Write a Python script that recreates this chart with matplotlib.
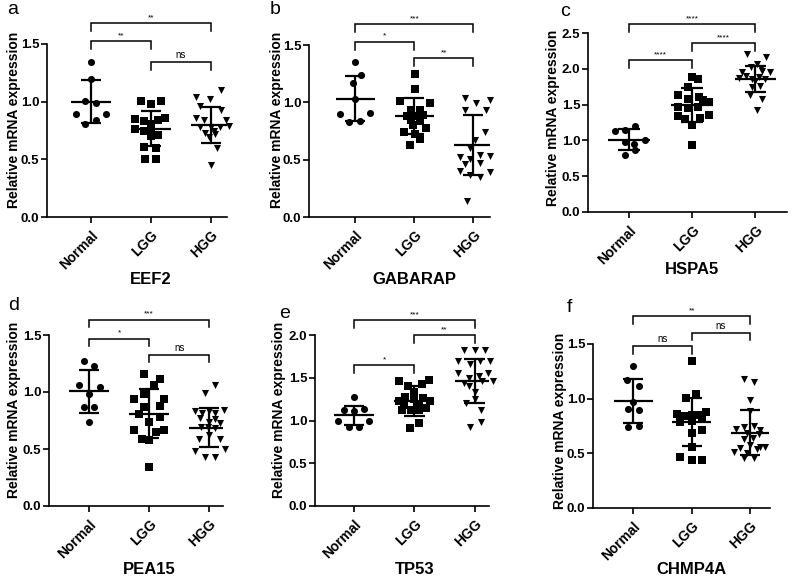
import matplotlib
matplotlib.use("Agg")
import matplotlib.pyplot as plt
import matplotlib.transforms as mtransforms

plt.rcParams['font.family'] = ['Liberation Sans', 'DejaVu Sans']

# ---------------- data ----------------
categories = ["Normal", "LGG", "HGG"]
genes = ["EEF2", "GABARAP", "HSPA5", "PEA15", "TP53", "CHMP4A"]
letters = ["a", "b", "c", "d", "e", "f"]

# EEF2
eef2_normal = [1.34, 1.20, 1.01, 0.99, 0.89, 0.89, 0.81, 0.84]
eef2_normal_dx = [0.0, 0.0, -0.09, 0.08, -0.25, 0.25, -0.09, 0.08]
eef2_lgg = [1.01, 0.98, 1.01, 0.85, 0.83, 0.81, 0.84, 0.86, 0.76, 0.75, 0.70, 0.71, 0.61, 0.60, 0.50, 0.50, 0.77]
eef2_lgg_dx = [-0.17, 0.0, 0.17, -0.26, -0.12, 0.0, 0.12, 0.24, -0.27, -0.12, 0.0, 0.12, -0.12, 0.09, -0.10, 0.08, 0.0]
eef2_hgg = [1.10, 1.04, 1.02, 0.93, 0.86, 0.84, 0.84, 0.78, 0.78, 0.78, 0.79, 0.73, 0.72, 0.69, 0.60, 0.45, 0.75, 0.96]
eef2_hgg_dx = [0.17, -0.25, -0.02, 0.17, -0.25, -0.11, 0.26, -0.18, 0.0, 0.15, 0.30, -0.10, 0.07, -0.03, 0.10, 0.0, 0.05, -0.18]
eef2_mean = [1.00, 0.767, 0.80]
eef2_sd = [0.185, 0.155, 0.155]
eef2_sig = ["**", "ns", "**"]   # Normal-LGG, LGG-HGG, Normal-HGG

# GABARAP
gab_normal = [1.35, 1.17, 1.24, 1.03, 0.90, 0.91, 0.83, 0.84]
gab_normal_dx = [0.0, -0.03, 0.10, 0.0, -0.25, 0.25, -0.10, 0.08]
gab_lgg = [1.25, 1.12, 1.01, 0.99, 0.93, 0.93, 0.88, 0.88, 0.89, 0.85, 0.84, 0.78, 0.74, 0.72, 0.68, 0.63, 0.80]
gab_lgg_dx = [0.01, 0.01, -0.24, 0.26, -0.06, 0.10, -0.12, 0.01, 0.15, -0.06, 0.10, 0.19, -0.17, 0.01, 0.10, -0.07, -0.02]
gab_hgg = [1.04, 0.99, 1.02, 0.93, 0.93, 0.67, 0.74, 0.52, 0.51, 0.54, 0.53, 0.46, 0.47, 0.40, 0.37, 0.35, 0.39, 0.14, 0.60]
gab_hgg_dx = [-0.14, 0.04, 0.28, -0.14, 0.21, 0.02, 0.20, -0.22, -0.05, 0.11, 0.28, -0.14, 0.11, -0.22, -0.05, 0.11, 0.28, -0.11, -0.05]
gab_mean = [1.032, 0.881, 0.628]
gab_sd = [0.195, 0.155, 0.262]
gab_sig = ["*", "**", "***"]

# HSPA5
hspa5_normal = [1.13, 1.15, 1.20, 1.01, 0.98, 0.95, 0.86, 0.80]
hspa5_normal_dx = [-0.23, -0.07, 0.09, 0.25, -0.07, 0.08, 0.09, -0.07]
hspa5_lgg = [1.89, 1.86, 1.74, 1.63, 1.61, 1.58, 1.56, 1.54, 1.46, 1.45, 1.47, 1.34, 1.30, 1.31, 1.35, 1.21, 0.94]
hspa5_lgg_dx = [0.0, 0.09, -0.06, -0.23, 0.10, -0.06, 0.17, 0.26, -0.23, -0.07, 0.09, -0.23, -0.11, 0.13, 0.26, 0.0, 0.0]
hspa5_hgg = [2.21, 2.16, 2.07, 2.02, 2.01, 1.95, 1.97, 1.95, 1.90, 1.86, 1.88, 1.86, 1.87, 1.83, 1.74, 1.76, 1.63, 1.58, 1.42]
hspa5_hgg_dx = [-0.14, 0.17, 0.02, -0.07, 0.09, -0.22, 0.10, 0.23, -0.15, -0.05, 0.05, 0.15, -0.26, 0.0, -0.06, 0.08, -0.09, 0.10, 0.02]
hspa5_mean = [1.01, 1.49, 1.86]
hspa5_sd = [0.145, 0.238, 0.185]
hspa5_sig = ["****", "****", "****"]

# PEA15
pea15_normal = [1.27, 1.23, 1.06, 1.04, 0.98, 0.87, 0.87, 0.74]
pea15_normal_dx = [-0.09, 0.08, -0.17, 0.18, 0.0, -0.08, 0.08, 0.0]
pea15_lgg = [1.16, 1.11, 1.06, 0.98, 0.94, 0.94, 0.87, 0.81, 0.78, 0.74, 0.67, 0.65, 0.67, 0.59, 0.58, 0.34, 0.88]
pea15_lgg_dx = [-0.08, 0.18, 0.08, -0.08, -0.25, 0.25, -0.08, -0.17, 0.18, 0.0, -0.25, 0.12, 0.25, -0.12, 0.0, 0.0, 0.18]
pea15_hgg = [1.06, 0.99, 0.83, 0.82, 0.83, 0.82, 0.84, 0.77, 0.74, 0.76, 0.73, 0.69, 0.69, 0.68, 0.59, 0.62, 0.59, 0.48, 0.50, 0.43, 0.43]
pea15_hgg_dx = [0.10, -0.07, -0.23, -0.12, 0.0, 0.10, 0.25, -0.16, 0.0, 0.10, 0.18, -0.14, -0.02, 0.10, -0.17, 0.0, 0.18, -0.24, 0.26, -0.07, 0.10]
pea15_mean = [1.005, 0.811, 0.686]
pea15_sd = [0.185, 0.215, 0.17]
pea15_sig = ["*", "ns", "***"]

# TP53
tp53_normal = [1.27, 1.12, 1.11, 1.13, 0.99, 1.00, 0.92, 0.92]
tp53_normal_dx = [0.0, -0.17, 0.0, 0.17, -0.26, 0.25, -0.08, 0.08]
tp53_lgg = [1.46, 1.40, 1.43, 1.47, 1.33, 1.28, 1.23, 1.25, 1.26, 1.23, 1.18, 1.19, 1.12, 1.12, 1.12, 1.15, 0.97, 0.91]
tp53_lgg_dx = [-0.25, -0.11, 0.13, 0.25, 0.0, -0.16, -0.26, 0.0, 0.15, 0.26, -0.17, 0.08, -0.05, 0.08, -0.20, 0.20, 0.08, -0.08]
tp53_hgg = [1.83, 1.82, 1.83, 1.70, 1.66, 1.70, 1.70, 1.55, 1.50, 1.52, 1.55, 1.44, 1.40, 1.46, 1.46, 1.33, 1.25, 1.20, 1.12, 0.98, 0.92]
tp53_hgg_dx = [-0.17, 0.01, 0.18, -0.27, -0.07, 0.09, 0.26, -0.27, -0.09, 0.07, 0.23, -0.18, -0.10, 0.12, 0.30, 0.01, 0.0, -0.14, 0.10, 0.10, -0.07]
tp53_mean = [1.06, 1.227, 1.461]
tp53_sd = [0.115, 0.18, 0.26]
tp53_sig = ["*", "**", "***"]

# CHMP4A
chmp4a_normal = [1.30, 1.17, 1.12, 0.97, 0.91, 0.90, 0.75, 0.74]
chmp4a_normal_dx = [0.0, -0.10, 0.10, 0.0, -0.09, 0.09, 0.09, -0.09]
chmp4a_lgg = [1.34, 1.04, 1.01, 0.86, 0.84, 0.85, 0.85, 0.88, 0.79, 0.80, 0.83, 0.69, 0.71, 0.56, 0.47, 0.44, 0.44]
chmp4a_lgg_dx = [0.0, 0.07, -0.10, -0.26, -0.12, 0.0, 0.12, 0.25, -0.20, 0.0, 0.17, 0.0, 0.17, 0.0, -0.20, 0.0, 0.17]
chmp4a_hgg = [1.18, 1.15, 0.99, 0.89, 0.72, 0.74, 0.75, 0.71, 0.69, 0.68, 0.63, 0.64, 0.55, 0.58, 0.56, 0.56, 0.51, 0.54, 0.46, 0.46, 0.50]
chmp4a_hgg_dx = [-0.10, 0.07, -0.01, 0.0, -0.24, -0.11, 0.06, 0.17, -0.05, 0.15, -0.11, 0.05, -0.18, 0.0, 0.17, 0.26, -0.27, 0.12, -0.11, 0.06, -0.05]
chmp4a_mean = [0.982, 0.787, 0.689]
chmp4a_sd = [0.20, 0.22, 0.208]
chmp4a_sig = ["ns", "ns", "**"]

panel_data = [
    ([eef2_normal, eef2_lgg, eef2_hgg], [eef2_normal_dx, eef2_lgg_dx, eef2_hgg_dx], eef2_mean, eef2_sd, eef2_sig),
    ([gab_normal, gab_lgg, gab_hgg], [gab_normal_dx, gab_lgg_dx, gab_hgg_dx], gab_mean, gab_sd, gab_sig),
    ([hspa5_normal, hspa5_lgg, hspa5_hgg], [hspa5_normal_dx, hspa5_lgg_dx, hspa5_hgg_dx], hspa5_mean, hspa5_sd, hspa5_sig),
    ([pea15_normal, pea15_lgg, pea15_hgg], [pea15_normal_dx, pea15_lgg_dx, pea15_hgg_dx], pea15_mean, pea15_sd, pea15_sig),
    ([tp53_normal, tp53_lgg, tp53_hgg], [tp53_normal_dx, tp53_lgg_dx, tp53_hgg_dx], tp53_mean, tp53_sd, tp53_sig),
    ([chmp4a_normal, chmp4a_lgg, chmp4a_hgg], [chmp4a_normal_dx, chmp4a_lgg_dx, chmp4a_hgg_dx], chmp4a_mean, chmp4a_sd, chmp4a_sig),
]

# ---------------- layout (pixels in an 800x576 canvas) ----------------
W, H = 800, 576
layout = [
    dict(px=(47, 227, 44, 217), xlim=(-0.73, 2.27), ymax=1.5, ystep=0.5,
         br=(1.526, 1.344, 1.68), letter=(7, 9), gene_y=280, ylab=(14, 120)),
    dict(px=(309, 490, 45, 217), xlim=(-0.78, 2.28), ymax=1.5, ystep=0.5,
         br=(1.528, 1.383, 1.683), letter=(270, 9), gene_y=280, ylab=(277, 120)),
    dict(px=(588, 787, 33, 212), xlim=(-0.65, 2.50), ymax=2.5, ystep=0.5,
         br=(2.12, 2.355, 2.625), letter=(560, 12), gene_y=270, ylab=(553, 118)),
    dict(px=(49, 223, 335, 506), xlim=(-0.67, 2.23), ymax=1.5, ystep=0.5,
         br=(1.467, 1.327, 1.634), letter=(8, 305), gene_y=569, ylab=(14, 410)),
    dict(px=(315, 489, 335, 506), xlim=(-0.65, 2.24), ymax=2.0, ystep=0.5,
         br=(1.645, 1.996, 2.17), letter=(279, 313), gene_y=569, ylab=(279, 410)),
    dict(px=(593, 770, 344, 508), xlim=(-0.69, 2.34), ymax=1.5, ystep=0.5,
         br=(1.479, 1.60, 1.754), letter=(567, 307), gene_y=569, ylab=(560, 421)),
]

markers = ["o", "s", "v"]
pairs = [(0, 1), (1, 2), (0, 2)]

fig = plt.figure(figsize=(8, 5.76), dpi=100)
fig.patch.set_facecolor("white")

for k in range(6):
    L = layout[k]
    l, r, t, b = L["px"]
    ax = fig.add_axes([l / W, 1 - b / H, (r - l) / W, (b - t) / H])
    groups, dxs, means, sds, sigs = panel_data[k]
    ymax = L["ymax"]

    for i, (vals, dx) in enumerate(zip(groups, dxs)):
        xs = [i + d for d in dx]
        ax.scatter(xs, vals, marker=markers[i], s=26, color="black",
                   linewidths=0, zorder=2, clip_on=False)
        m, s = means[i], sds[i]
        ax.hlines(m, i - 0.33, i + 0.33, color="black", lw=1.6, zorder=3)
        ax.vlines(i, m - s, m + s, color="black", lw=1.6, zorder=3)
        ax.hlines([m - s, m + s], i - 0.17, i + 0.17, color="black", lw=1.6, zorder=3)

    drop = 0.045 * ymax
    for (a1, a2), yb, lab in zip(pairs, L["br"], sigs):
        ax.plot([a1, a1, a2, a2], [yb - drop, yb, yb, yb - drop], color="black",
                lw=1.1, clip_on=False, solid_joinstyle="miter")
        fs = 7 if lab == "ns" else 6
        ax.text((a1 + a2) / 2, yb + 0.012 * ymax, lab, ha="center", va="bottom",
                fontsize=fs, clip_on=False)

    ax.set_xlim(*L["xlim"])
    ax.set_ylim(0, ymax)
    n = int(round(ymax / L["ystep"]))
    yt = [L["ystep"] * j for j in range(n + 1)]
    ax.set_yticks(yt)
    ax.set_yticklabels([f"{v:.1f}" for v in yt], fontsize=9.5, fontweight="bold")
    ax.set_xticks([0, 1, 2])
    ax.set_xticklabels(categories, rotation=45, ha="right", rotation_mode="anchor",
                       fontsize=10, fontweight="bold")
    for sp in ["top", "right"]:
        ax.spines[sp].set_visible(False)
    for sp in ["left", "bottom"]:
        ax.spines[sp].set_linewidth(1.2)
    ax.tick_params(axis="both", direction="out", length=4, width=1.2, pad=1.5)
    ax.tick_params(axis="x", pad=4)
    ax.set_facecolor("none")

    fig.text(L["ylab"][0] / W, 1 - L["ylab"][1] / H, "Relative mRNA expression",
             rotation=90, ha="center", va="center", fontsize=10, fontweight="bold")
    tr = mtransforms.blended_transform_factory(ax.transData, fig.transFigure)
    ax.text(1, 1 - L["gene_y"] / H, genes[k], transform=tr, ha="center", va="center",
            fontsize=12, fontweight="bold", clip_on=False)
    fig.text(L["letter"][0] / W, 1 - L["letter"][1] / H, letters[k], ha="left",
             va="center", fontsize=14)

fig.savefig("out.png", dpi=100, facecolor="white")
